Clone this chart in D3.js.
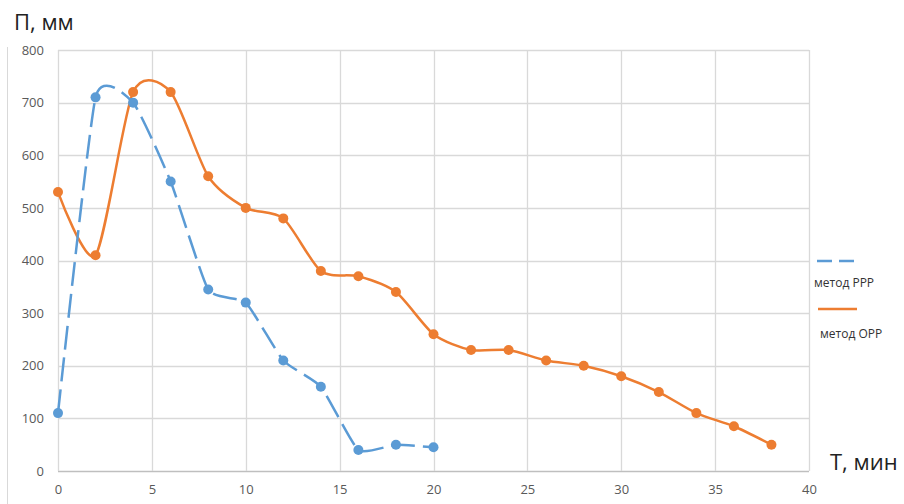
<!DOCTYPE html>
<html><head><meta charset="utf-8">
<script src="https://cdn.jsdelivr.net/npm/d3@7"></script>
<style>body{margin:0;background:#fff}svg{display:block}</style>
</head><body>
<svg id="c" width="904" height="504"></svg>
<script>
const xTicks = [0,5,10,15,20,25,30,35,40];
const yTicks = [0,100,200,300,400,500,600,700,800];
const rppT = [0,2,4,6,8,10,12,14,16,18,20];
const rppV = [110,710,700,550,345,320,210,160,40,50,45];
const orpT = [0,2,4,6,8,10,12,14,16,18,20,22,24,26,28,30,32,34,36,38];
const orpV = [530,410,720,720,560,500,480,380,370,340,260,230,230,210,200,180,150,110,85,50];
const seriesNames = ["метод РРР","метод ОРР"];
const colors = ["#5b9bd5","#ed7d31"];

const svg = d3.select("#c");
const x = d3.scaleLinear().domain([0,40]).range([58,809]);
const y = d3.scaleLinear().domain([0,800]).range([471,50]);
const font = "'Open Sans', 'Noto Sans', sans-serif";

svg.append("line").attr("x1",7.5).attr("x2",7.5).attr("y1",47).attr("y2",504)
  .attr("stroke","#d9d9d9").attr("stroke-width",1);

svg.append("g").selectAll("line").data(yTicks).join("line")
  .attr("x1",x(0)).attr("x2",x(40)).attr("y1",d=>Math.round(y(d))+0.5).attr("y2",d=>Math.round(y(d))+0.5)
  .attr("stroke",d=>d===0?"#bfbfbf":"#d9d9d9").attr("stroke-width",1.3);
svg.append("g").selectAll("line").data(xTicks).join("line")
  .attr("y1",y(0)).attr("y2",y(800)).attr("x1",d=>Math.round(x(d))+0.5).attr("x2",d=>Math.round(x(d))+0.5)
  .attr("stroke","#d9d9d9").attr("stroke-width",1.3);

const xAxis = svg.append("g").attr("transform",`translate(0,${y(0)})`)
  .call(d3.axisBottom(x).tickValues(xTicks).tickSize(0).tickPadding(14));
xAxis.select(".domain").remove();
xAxis.selectAll("text").attr("fill","#595959").attr("font-size",13).attr("font-family",font);
const yAxis = svg.append("g").attr("transform",`translate(${x(0)},0)`)
  .call(d3.axisLeft(y).tickValues(yTicks).tickSize(0).tickPadding(14));
yAxis.select(".domain").remove();
yAxis.selectAll("text").attr("fill","#595959").attr("font-size",13).attr("font-family",font);

const lineO = d3.line().x(d=>x(d[0])).y(d=>y(d[1])).curve(d3.curveCardinal.tension(0.25));
const lineB = d3.line().x(d=>x(d[0])).y(d=>y(d[1])).curve(d3.curveCardinal.tension(0.5));
const rpp = rppT.map((t,i)=>[t,rppV[i]]);
const orp = orpT.map((t,i)=>[t,orpV[i]]);

svg.append("path").datum(orp).attr("d",lineO).attr("fill","none")
  .attr("stroke",colors[1]).attr("stroke-width",2.5);
svg.append("g").selectAll("circle").data(orp).join("circle")
  .attr("cx",d=>x(d[0])).attr("cy",d=>y(d[1])).attr("r",5).attr("fill",colors[1]);

svg.append("path").datum(rpp).attr("d",lineB).attr("fill","none")
  .attr("stroke",colors[0]).attr("stroke-width",2.5).attr("stroke-dasharray","24 8");
svg.append("g").selectAll("circle").data(rpp).join("circle")
  .attr("cx",d=>x(d[0])).attr("cy",d=>y(d[1])).attr("r",5).attr("fill",colors[0]);

svg.append("line").attr("x1",817).attr("x2",857).attr("y1",261).attr("y2",261)
  .attr("stroke",colors[0]).attr("stroke-width",2.5).attr("stroke-dasharray","15 7");
svg.append("text").attr("x",814).attr("y",287).text(seriesNames[0])
  .attr("font-size",12).attr("font-family",font).attr("fill","#333");
svg.append("line").attr("x1",818).attr("x2",857).attr("y1",309).attr("y2",309)
  .attr("stroke",colors[1]).attr("stroke-width",2.5);
svg.append("text").attr("x",820).attr("y",338).text(seriesNames[1])
  .attr("font-size",12).attr("font-family",font).attr("fill","#333");

svg.append("text").attr("x",14).attr("y",30).text("П, мм")
  .attr("font-size",22).attr("font-family",font).attr("fill","#222");
svg.append("text").attr("x",830).attr("y",470).text("Т, мин")
  .attr("font-size",22).attr("font-family",font).attr("fill","#222");
</script>
</body></html>
